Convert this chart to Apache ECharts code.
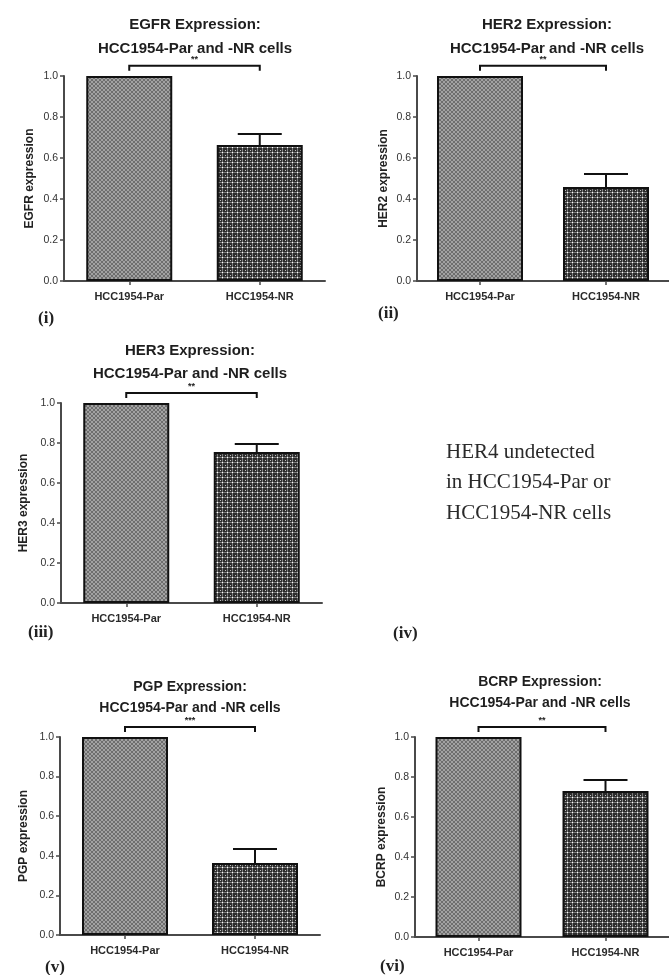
<!DOCTYPE html>
<html><head><meta charset="utf-8">
<script src="https://cdn.jsdelivr.net/npm/echarts@6/dist/echarts.min.js"></script>
<style>html,body{margin:0;padding:0;background:#fff}#c{width:669px;height:975px}</style>
</head><body><div id="c"></div>
<script>
// ---------- data ----------
const categories = ['HCC1954-Par', 'HCC1954-NR'];
const panelTitles = [
  'EGFR Expression:\nHCC1954-Par and -NR cells',
  'HER2 Expression:\nHCC1954-Par and -NR cells',
  'HER3 Expression:\nHCC1954-Par and -NR cells',
  'PGP Expression:\nHCC1954-Par and -NR cells',
  'BCRP Expression:\nHCC1954-Par and -NR cells'
];
const yAxisNames = ['EGFR expression', 'HER2 expression', 'HER3 expression', 'PGP expression', 'BCRP expression'];
const parValues = [1.0, 1.0, 1.0, 1.0, 1.0];
const nrValues = [0.663, 0.458, 0.755, 0.364, 0.73];
const nrErrors = [0.054, 0.064, 0.04, 0.07, 0.055];
const sigLabels = ['**', '**', '**', '***', '**'];
const sigLevel = 1.05;
const yMin = 0, yMax = 1.0, yStep = 0.2;
const panelLetters = ['(i)', '(ii)', '(iii)', '(v)', '(vi)'];
const emptyPanelLetter = '(iv)';
const her4Note = 'HER4 undetected\nin HCC1954-Par or\nHCC1954-NR cells';

// ---------- layout (positions / styles) ----------
const layouts = [
  {left: 64, top: 76, width: 261, height: 205, tx: 195, ty: 13, lh: 24, fs: 15, gap: 28, lx: 38, ly: 310},
  {left: 417, top: 76, width: 264, height: 205, tx: 547, ty: 13, lh: 24, fs: 15, gap: 27, lx: 378, ly: 305},
  {left: 61, top: 403, width: 261, height: 200, tx: 190, ty: 339, lh: 23, fs: 15, gap: 31, lx: 28, ly: 624},
  {left: 60, top: 737, width: 260, height: 198, tx: 190, ty: 677, lh: 21, fs: 14, gap: 30, lx: 45, ly: 959},
  {left: 415, top: 737, width: 257, height: 200, tx: 540, ty: 672, lh: 21, fs: 14, gap: 27, lx: 380, ly: 958}
];

function makePattern(kind) {
  const c = document.createElement('canvas');
  const g = c.getContext('2d');
  if (kind === 'hatch') {
    c.width = 4; c.height = 4;
    g.fillStyle = '#a2a2a2'; g.fillRect(0, 0, 4, 4);
    g.fillStyle = '#6e6e6e';
    for (let i = 0; i < 4; i++) { g.fillRect(i, i, 1, 1); g.fillRect(3 - i, i, 1, 1); }
  } else {
    c.width = 5; c.height = 5;
    g.fillStyle = '#2c2c2c'; g.fillRect(0, 0, 5, 5);
    g.fillStyle = '#7a7a7a'; g.fillRect(0, 2, 5, 1); g.fillRect(2, 0, 1, 5);
    g.fillStyle = '#ffffff'; g.fillRect(2, 2, 1, 1);
    g.fillStyle = '#bdbdbd'; g.fillRect(0, 0, 1, 1);
  }
  return {image: c, repeat: 'repeat'};
}
const parFill = makePattern('hatch');
const nrFill = makePattern('dots');

const sans = 'Liberation Sans, Arial, sans-serif';
const serif = 'Liberation Serif, Times New Roman, serif';
const axisColor = '#4a4a4a';

const grid = [], xAxis = [], yAxis = [], series = [], graphic = [];

layouts.forEach((L, i) => {
  grid.push({left: L.left, top: L.top, width: L.width, height: L.height, containLabel: false});
  xAxis.push({
    type: 'category', gridIndex: i, data: categories,
    axisLine: {lineStyle: {color: axisColor, width: 2}},
    axisTick: {show: true, alignWithLabel: true, length: 4, lineStyle: {color: axisColor, width: 1.5}},
    axisLabel: {fontFamily: sans, fontWeight: 'bold', fontSize: 11, color: '#2a2a2a', margin: 10}
  });
  yAxis.push({
    type: 'value', gridIndex: i, min: yMin, max: yMax, interval: yStep,
    name: yAxisNames[i], nameLocation: 'middle', nameGap: L.gap, nameRotate: 90,
    nameTextStyle: {fontFamily: sans, fontWeight: 'bold', fontSize: 12, color: '#222'},
    axisLine: {show: true, lineStyle: {color: axisColor, width: 2}},
    axisTick: {show: true, length: 4, lineStyle: {color: axisColor, width: 1.5}},
    axisLabel: {fontFamily: sans, fontSize: 10.5, color: '#333', margin: 6, formatter: v => v.toFixed(1)},
    splitLine: {show: false}
  });
  series.push({
    type: 'bar', xAxisIndex: i, yAxisIndex: i, barWidth: 86,
    data: [
      {value: parValues[i], itemStyle: {color: parFill}},
      {value: nrValues[i], itemStyle: {color: nrFill}}
    ],
    itemStyle: {borderColor: '#111', borderWidth: 2}
  });
  series.push({
    type: 'custom', xAxisIndex: i, yAxisIndex: i, z: 5,
    data: [[1, nrValues[i], nrValues[i] + nrErrors[i]]],
    renderItem: (params, api) => {
      const b = api.coord([api.value(0), api.value(1)]);
      const t = api.coord([api.value(0), api.value(2)]);
      const h = 22;
      return {type: 'group', children: [
        {type: 'line', shape: {x1: b[0], y1: b[1], x2: t[0], y2: t[1]}, style: {stroke: '#111', lineWidth: 2}},
        {type: 'line', shape: {x1: t[0] - h, y1: t[1], x2: t[0] + h, y2: t[1]}, style: {stroke: '#111', lineWidth: 2}}
      ]};
    }
  });
  series.push({
    type: 'custom', xAxisIndex: i, yAxisIndex: i, z: 5, clip: false,
    data: [[0, 1, sigLevel]],
    renderItem: (params, api) => {
      const a = api.coord([api.value(0), api.value(2)]);
      const b = api.coord([api.value(1), api.value(2)]);
      const y = a[1];
      return {type: 'group', children: [
        {type: 'polyline', shape: {points: [[a[0], y + 5], [a[0], y], [b[0], y], [b[0], y + 5]]}, style: {stroke: '#111', lineWidth: 2, fill: null}},
        {type: 'text', x: (a[0] + b[0]) / 2, y: y - 2, style: {text: sigLabels[i], fontSize: 9, fontWeight: 'bold', fontFamily: sans, fill: '#222', align: 'center', verticalAlign: 'bottom'}}
      ]};
    }
  });
  graphic.push({type: 'text', x: L.tx, y: L.ty, style: {text: panelTitles[i], fontFamily: sans, fontWeight: 'bold', fontSize: L.fs, lineHeight: L.lh, fill: '#1e1e1e', align: 'center', verticalAlign: 'top'}});
  graphic.push({type: 'text', x: L.lx, y: L.ly, style: {text: panelLetters[i], fontFamily: serif, fontWeight: 'bold', fontSize: 17, fill: '#222', align: 'left', verticalAlign: 'top'}});
});

graphic.push({type: 'text', x: 446, y: 437, style: {text: her4Note, fontFamily: serif, fontSize: 21, lineHeight: 30.5, fill: '#2a2a2a', align: 'left', verticalAlign: 'top'}});
graphic.push({type: 'text', x: 393, y: 625, style: {text: emptyPanelLetter, fontFamily: serif, fontWeight: 'bold', fontSize: 17, fill: '#222', align: 'left', verticalAlign: 'top'}});

const chart = echarts.init(document.getElementById('c'), null, {renderer: 'canvas'});
chart.setOption({animation: false, backgroundColor: '#fff', grid, xAxis, yAxis, series, graphic});
</script>
</body></html>
